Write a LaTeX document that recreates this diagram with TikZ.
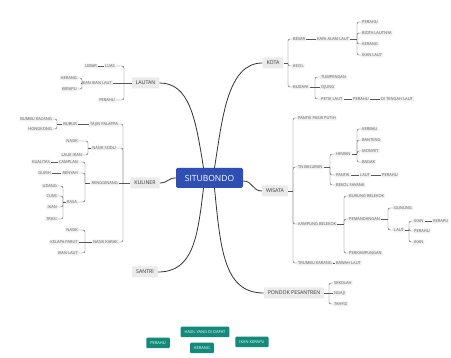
\documentclass[tikz,border=0pt]{standalone}
\usepackage{fontspec}
\setmainfont{Open Sans}
\definecolor{rootblue}{HTML}{2F4FB5}
\definecolor{tealc}{HTML}{138A7A}
\begin{document}
\begin{tikzpicture}[x=1pt,y=-1pt,
  leaf/.style={font=\fontsize{4}{4.5}\selectfont, text=black!65, fill=black!6, rounded corners=0.6pt, inner xsep=1pt, inner ysep=0.9pt},
  lw/.style={leaf, anchor=west},
  le/.style={leaf, anchor=east},
  mainb/.style={font=\fontsize{5.2}{6}\selectfont, text=black!80, fill=black!8, rounded corners=1pt, inner xsep=4pt, inner ysep=2pt, minimum height=11pt},
  root/.style={fill=rootblue, text=white, font=\fontsize{8.5}{10}\selectfont, rounded corners=1.5pt, minimum width=67pt, minimum height=20pt},
  tealbox/.style={fill=tealc, text=white, font=\fontsize{4}{4.5}\selectfont, rounded corners=1pt, minimum height=10.5pt, inner xsep=4pt},
  trunk/.style={draw=black!80, line width=0.8pt},
  br/.style={draw=black!65, line width=0.45pt, rounded corners=2pt},
]
\fill[white] (0,0) rectangle (451,358);
\useasboundingbox (0,0) rectangle (451,358);

% root
\node[root] (s) at (209.5,178) {SITUBONDO};

% main branches
\node[mainb] (lautan) at (145.5,83) {LAUTAN};
\node[mainb] (kuliner) at (145,183) {KULINER};
\node[mainb] (santri) at (145,272) {SANTRI};
\node[mainb] (kota) at (273,63) {KOTA};
\node[mainb] (wisata) at (275,191) {WISATA};
\node[mainb] (pondok) at (294,293) {PONDOK PESANTREN};

\draw[trunk] ([xshift=-6pt]s.north) .. controls +(-8,-50) and +(30,0) .. (lautan.east);
\draw[trunk] ([xshift=5pt]s.north) .. controls +(8,-50) and +(-35,0) .. (kota.west);
\draw[trunk] ([xshift=-6pt]s.south) .. controls +(-6,50) and +(35,0) .. (santri.east);
\draw[trunk] ([xshift=5pt]s.south) .. controls +(6,60) and +(-40,0) .. (pondok.west);
\draw[trunk] (s.west) .. controls +(-8,0) and +(8,0) .. (kuliner.east);
\draw[trunk] ([yshift=-3pt]s.east) .. controls +(10,0) and +(-10,0) .. (wisata.west);

% ---------- LAUTAN ----------
\coordinate (lj) at (124,83);
\node[le] (luas) at (116,66) {LUAS};
\node[le] (lebar) at (98,66) {LEBAR};
\node[le] (iil) at (113,83) {IKAN IKAN LAUT};
\node[le] (lperahu) at (116,100) {PERAHU};
\node[le] (lkerang) at (78,78) {KERANG};
\node[le] (lkerapu) at (78,89) {KERAPU};
\coordinate (iilj) at (82,83);
\draw[br] (lautan.west) -- (lj);
\draw[br] (lj) |- (luas.east);
\draw[br] (lj) |- (lperahu.east);
\draw[br] (lj) -- (iil.east);
\draw[br] (lebar.east) -- (luas.west);
\draw[br] (iil.west) -- (iilj);
\draw[br] (iilj) |- (lkerang.east);
\draw[br] (iilj) |- (lkerapu.east);

% ---------- KULINER ----------
\coordinate (kj) at (123,183);
\node[le] (tajin) at (119,124) {TAJIN PALAPPA};
\node[le] (nsodu) at (117,148) {NASIK SODU};
\node[le] (reng) at (119,183) {RENGGINANG};
\node[le] (nkarak) at (119,242) {NASIK KARAK};
\draw[br] (kuliner.west) -- (kj);
\draw[br] (kj) |- (tajin.east);
\draw[br] (kj) |- (nsodu.east);
\draw[br] (kj) -- (reng.east);
\draw[br] (kj) |- (nkarak.east);
% tajin
\node[le] (bubur) at (78,124) {BUBUR};
\draw[br] (bubur.east) -- (tajin.west);
\coordinate (bj) at (57,124);
\node[le] (bumbu) at (53,119) {BUMBU KACANG};
\node[le] (hong) at (53,129) {HONGKONG};
\draw[br] (bubur.west) -- (bj);
\draw[br] (bj) |- (bumbu.east);
\draw[br] (bj) |- (hong.east);
% nasik sodu
\coordinate (nsj) at (88,148);
\node[le] (nasik1) at (79,141) {NASIK};
\node[le] (lauk) at (83,155) {LAUK IKAN};
\draw[br] (nsodu.west) -- (nsj);
\draw[br] (nsj) |- (nasik1.east);
\draw[br] (nsj) |- (lauk.east);
% rengginang
\coordinate (rj) at (85,183);
\node[le] (camplan) at (79,162) {CAMPLAN};
\node[le] (kualitas) at (51,162) {KUALITAS};
\node[le] (renyah) at (79,173) {RENYAH};
\node[le] (gurih) at (52,173) {GURIH};
\node[le] (rasa) at (78,202) {RASA};
\draw[br] (reng.west) -- (rj);
\draw[br] (rj) |- (camplan.east);
\draw[br] (rj) |- (renyah.east);
\draw[br] (rj) |- (rasa.east);
\draw[br] (kualitas.east) -- (camplan.west);
\draw[br] (gurih.east) -- (renyah.west);
\coordinate (raj) at (63,202);
\node[le] (udang) at (58,186) {UDANG};
\node[le] (cumi) at (58,196) {CUMI};
\node[le] (rikan) at (58,207) {IKAN};
\node[le] (trasi) at (58,219) {TRASI};
\draw[br] (rasa.west) -- (raj);
\draw[br] (raj) |- (udang.east);
\draw[br] (raj) |- (cumi.east);
\draw[br] (raj) |- (rikan.east);
\draw[br] (raj) |- (trasi.east);
% nasik karak
\coordinate (nkj) at (85,242);
\node[le] (nasik2) at (79,230) {NASIK};
\node[le] (kelapa) at (79,242) {KELAPA PARUT};
\node[le] (nkikan) at (79,253) {IKAN LAUT};
\draw[br] (nkarak.west) -- (nkj);
\draw[br] (nkj) |- (nasik2.east);
\draw[br] (nkj) -- (kelapa.east);
\draw[br] (nkj) |- (nkikan.east);

% ---------- KOTA ----------
\coordinate (koj) at (288,63);
\node[lw] (besar) at (292,39) {BESAR};
\node[lw] (kecil) at (292,66) {KECIL};
\node[lw] (budaya) at (292,87) {BUDAYA};
\draw[br] (kota.east) -- (koj);
\draw[br] (koj) |- (besar.west);
\draw[br] (koj) |- (kecil.west);
\draw[br] (koj) |- (budaya.west);
\node[lw] (kaya) at (316,39) {KAYA ALAM LAUT};
\draw[br] (besar.east) -- (kaya.west);
\coordinate (kaj) at (357,39);
\node[lw] (kperahu) at (361,22) {PERAHU};
\node[lw] (biota) at (361,33) {BIOTA LAUTNYA};
\node[lw] (kkerang) at (361,44) {KERANG};
\node[lw] (kikan) at (361,55) {IKAN LAUT};
\draw[br] (kaya.east) -- (kaj);
\draw[br] (kaj) |- (kperahu.west);
\draw[br] (kaj) |- (biota.west);
\draw[br] (kaj) |- (kkerang.west);
\draw[br] (kaj) |- (kikan.west);
\coordinate (buj) at (315,87);
\node[lw] (tump) at (320,77) {TUMPENGAN};
\node[lw] (ojung) at (320,87) {OJUNG};
\node[lw] (petik) at (320,99) {PETIK LAUT};
\draw[br] (budaya.east) -- (buj);
\draw[br] (buj) |- (tump.west);
\draw[br] (buj) -- (ojung.west);
\draw[br] (buj) |- (petik.west);
\node[lw] (pperahu) at (352,99) {PERAHU};
\node[lw] (tengah) at (380,99) {DI TENGAH LAUT};
\draw[br] (petik.east) -- (pperahu.west);
\draw[br] (pperahu.east) -- (tengah.west);

% ---------- WISATA ----------
\coordinate (wj) at (293,191);
\node[lw] (ppp) at (297,118) {PANTAI PASIR PUTIH};
\node[lw] (tnb) at (297,167) {TN BALURAN};
\node[lw] (kamp) at (297,224) {KAMPUNG BELEKOK};
\node[lw] (trumbu) at (297,263) {TRUMBU KARANG};
\draw[br] (wisata.east) -- (wj);
\draw[br] (wj) |- (ppp.west);
\draw[br] (wj) |- (tnb.west);
\draw[br] (wj) |- (kamp.west);
\draw[br] (wj) |- (trumbu.west);
% tn baluran
\coordinate (tj) at (330,167);
\node[lw] (hewan) at (335,154) {HEWAN};
\node[lw] (tpantai) at (335,175) {PANTAI};
\node[lw] (bekol) at (335,185) {BEKOL SAVANA};
\draw[br] (tnb.east) -- (tj);
\draw[br] (tj) |- (hewan.west);
\draw[br] (tj) |- (tpantai.west);
\draw[br] (tj) |- (bekol.west);
\coordinate (hj) at (357,154);
\node[lw] (kerbau) at (361,129) {KERBAU};
\node[lw] (banteng) at (361,140) {BANTENG};
\node[lw] (monyet) at (361,151) {MONYET};
\node[lw] (badak) at (361,162) {BADAK};
\draw[br] (hewan.east) -- (hj);
\draw[br] (hj) |- (kerbau.west);
\draw[br] (hj) |- (banteng.west);
\draw[br] (hj) |- (monyet.west);
\draw[br] (hj) |- (badak.west);
\node[lw] (tlaut) at (359,175) {LAUT};
\node[lw] (tperahu) at (381,175) {PERAHU};
\draw[br] (tpantai.east) -- (tlaut.west);
\draw[br] (tlaut.east) -- (tperahu.west);
% kampung belekok
\coordinate (kbj) at (344,224);
\node[lw] (burung) at (348,196) {BURUNG BELEKOK};
\node[lw] (pemand) at (348,219) {PEMANDANGAN};
\node[lw] (perkamp) at (348,253) {PERKAMPUNGAN};
\draw[br] (kamp.east) -- (kbj);
\draw[br] (kbj) |- (burung.west);
\draw[br] (kbj) |- (pemand.west);
\draw[br] (kbj) |- (perkamp.west);
\coordinate (pmj) at (388,219);
\node[lw] (gunung) at (393,208) {GUNUNG};
\node[lw] (plaut) at (393,230) {LAUT};
\draw[br] (pemand.east) -- (pmj);
\draw[br] (pmj) |- (gunung.west);
\draw[br] (pmj) |- (plaut.west);
\coordinate (plj) at (409,230);
\node[lw] (pikan) at (413,221) {IKAN};
\node[lw] (pperahu2) at (413,231) {PERAHU};
\node[lw] (pikan2) at (413,242) {IKAN};
\draw[br] (plaut.east) -- (plj);
\draw[br] (plj) |- (pikan.west);
\draw[br] (plj) |- (pperahu2.west);
\draw[br] (plj) |- (pikan2.west);
\node[lw] (pkerapu) at (432,221) {KERAPU};
\draw[br] (pikan.east) -- (pkerapu.west);
% trumbu karang
\node[lw] (bawah) at (335,263) {BAWAH LAUT};
\draw[br] (trumbu.east) -- (bawah.west);

% ---------- PONDOK ----------
\coordinate (poj) at (329,293);
\node[lw] (sekolah) at (333,283) {SEKOLAH};
\node[lw] (ngaji) at (333,293) {NGAJI};
\node[lw] (tahfiz) at (333,304) {TAHFIZ};
\draw[br] (pondok.east) -- (poj);
\draw[br] (poj) |- (sekolah.west);
\draw[br] (poj) -- (ngaji.west);
\draw[br] (poj) |- (tahfiz.west);

% ---------- floating teal boxes ----------
\node[tealbox] (hasil) at (205,332) {HASIL YANG DI DAPAT};
\node[tealbox] (tperahu3) at (158,343) {PERAHU};
\node[tealbox] (tkerang) at (202,348) {KERANG};
\node[tealbox] (tkerapu) at (252,342) {IKAN KERAPU};
\end{tikzpicture}
\end{document}
